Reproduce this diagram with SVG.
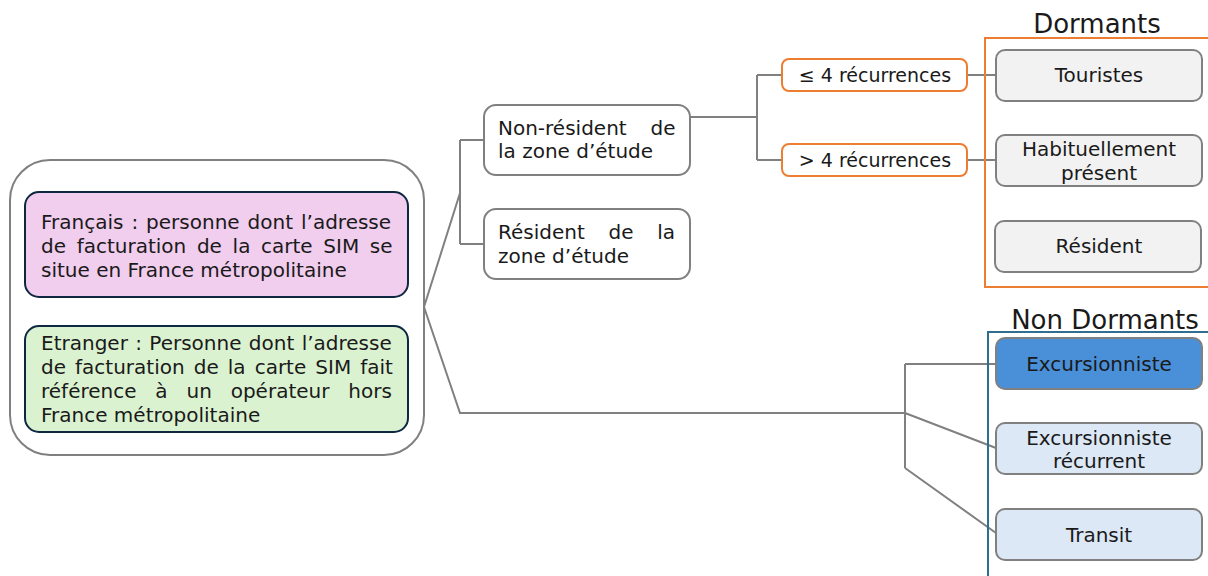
<svg xmlns="http://www.w3.org/2000/svg" width="1208" height="576" viewBox="0 0 1208 576">
<style>
text{font-family:"DejaVu Sans","Liberation Sans",sans-serif;font-size:20px;fill:#1a1a1a}
.c{text-anchor:middle}
.t{font-size:26px}
.o{font-size:19px}
.gbox{fill:#F2F2F2;stroke:#808080;stroke-width:2}
.wbox{fill:#FFFFFF;stroke:#808080;stroke-width:2}
.obox{fill:#FFFFFF;stroke:#ED7D31;stroke-width:2}
.conn{fill:none;stroke:#808080;stroke-width:2}
</style>
<rect width="1208" height="576" fill="#FFFFFF"/>
<g id="connectors">
<path class="conn" d="M424,307 L460,193 M460,140 V244 M460,140 H484 M460,244 H484"/>
<path class="conn" d="M424,307 L460,413 H905 M905,364 V468 M905,364 H996 M905,413 L996,448 M905,468 L996,533"/>
<path class="conn" d="M690,117 H757 M757,75 V160 M757,75 H782 M757,160 H782 M967,75 H996 M967,160 H996"/>
</g>
<g id="dormants-frame">
<path d="M1210,38 H985 V287 H1210" fill="none" stroke="#ED7D31" stroke-width="2"/>
<text class="c t" x="1097" y="33">Dormants</text>
</g>
<g id="non-dormants-frame">
<path d="M1210,332 H988 V580" fill="none" stroke="#2F6D91" stroke-width="2"/>
<text class="c t" x="1105" y="329">Non Dormants</text>
</g>
<g id="origine">
<rect x="10" y="160" width="414" height="295" rx="40" class="wbox"/>
</g>
<g id="francais">
<rect x="25" y="192" width="383" height="105" rx="14" fill="#F1CDEE" stroke="#0E2841" stroke-width="2"/>
<text x="41" y="229" word-spacing="1.6">Français : personne dont l’adresse</text>
<text x="41" y="253" word-spacing="4.3">de facturation de la carte SIM se</text>
<text x="41" y="277">situe en France métropolitaine</text>
</g>
<g id="etranger">
<rect x="25" y="326" width="383" height="106" rx="14" fill="#DAF2D0" stroke="#0E2841" stroke-width="2"/>
<text x="41" y="350" word-spacing="1">Etranger : Personne dont l’adresse</text>
<text x="41" y="374" word-spacing="2.7">de facturation de la carte SIM fait</text>
<text x="41" y="398" word-spacing="12.5">référence à un opérateur hors</text>
<text x="41" y="422">France métropolitaine</text>
</g>
<g id="non-resident">
<rect x="484" y="105" width="206" height="70" rx="12" class="wbox"/>
<text x="498" y="135" word-spacing="17.5">Non-résident de</text>
<text x="498" y="158">la zone d’étude</text>
</g>
<g id="resident-zone">
<rect x="484" y="209" width="206" height="70" rx="12" class="wbox"/>
<text x="498" y="239" word-spacing="17.4">Résident de la</text>
<text x="498" y="263">zone d’étude</text>
</g>
<g id="le4">
<rect x="782" y="59" width="185" height="32" rx="7" class="obox"/>
<text class="c o" x="875" y="82">≤ 4 récurrences</text>
</g>
<g id="gt4">
<rect x="782" y="144" width="185" height="32" rx="7" class="obox"/>
<text class="c o" x="875" y="167">&gt; 4 récurrences</text>
</g>
<g id="touristes">
<rect x="996" y="50" width="206" height="51" rx="9" class="gbox"/>
<text class="c" x="1099" y="82">Touristes</text>
</g>
<g id="habituellement">
<rect x="996" y="135" width="206" height="51" rx="9" class="gbox"/>
<text class="c" x="1099" y="156">Habituellement</text>
<text class="c" x="1099" y="180">présent</text>
</g>
<g id="resident">
<rect x="995" y="221" width="206" height="51" rx="9" class="gbox"/>
<text class="c" x="1099" y="253">Résident</text>
</g>
<g id="excursionniste">
<rect x="996" y="338" width="206" height="51" rx="9" fill="#4A90D9" stroke="#808080" stroke-width="2"/>
<text class="c" x="1099" y="371">Excursionniste</text>
</g>
<g id="excursionniste-recurrent">
<rect x="996" y="423" width="206" height="51" rx="9" fill="#DCE8F5" stroke="#808080" stroke-width="2"/>
<text class="c" x="1099" y="445">Excursionniste</text>
<text class="c" x="1099" y="468">récurrent</text>
</g>
<g id="transit">
<rect x="996" y="509" width="206" height="51" rx="9" fill="#DCE8F5" stroke="#808080" stroke-width="2"/>
<text class="c" x="1099" y="542">Transit</text>
</g>
</svg>
